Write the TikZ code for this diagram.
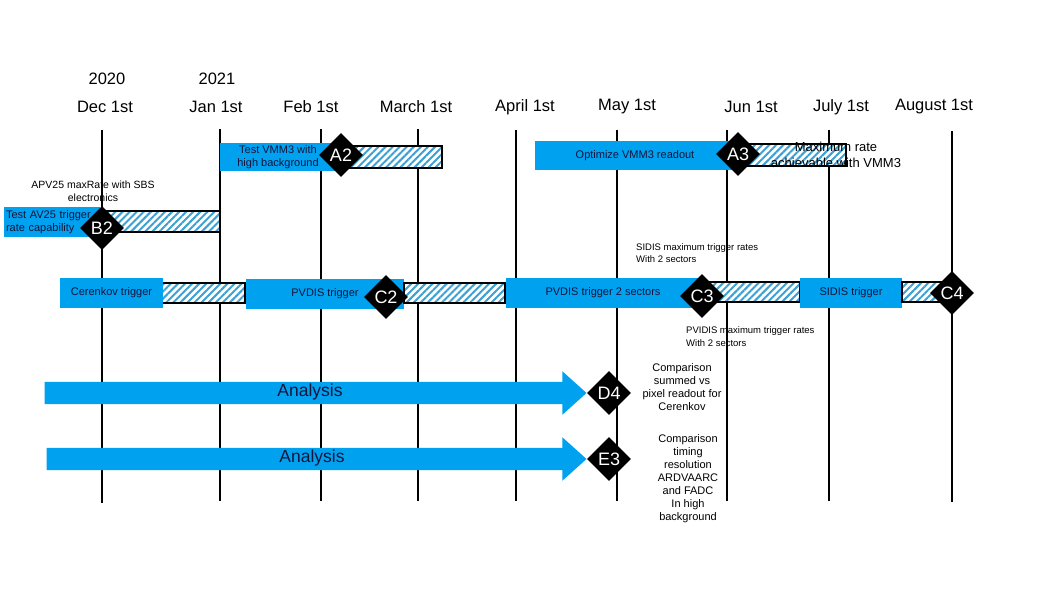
\documentclass[tikz,border=0pt]{standalone}
\usepackage{fontspec}
\setmainfont{Liberation Sans}
\usetikzlibrary{shapes.geometric,shapes.arrows,patterns.meta}
\definecolor{barblue}{RGB}{0,162,240}
\definecolor{hatchblue}{RGB}{60,160,210}
\definecolor{boxtext}{RGB}{20,20,60}
\begin{document}
\begin{tikzpicture}[x=1pt,y=-1pt,
month/.style={inner sep=0pt,font=\fontsize{16.5}{18}\selectfont},
note/.style={inner sep=0pt,align=center,font=\fontsize{11}{13}\selectfont},
month line/.style={line width=2.8pt},
blue bar/.style={fill=barblue,inner sep=0pt,text=boxtext,align=center,font=\fontsize{11}{12.5}\selectfont},
hatch bar/.style={draw=black,line width=1.6pt,inner sep=0pt,preaction={fill=white},
  pattern={Lines[angle=45,distance=5pt,line width=2pt]},pattern color=hatchblue},
milestone/.style={diamond,fill=black,text=white,inner sep=0pt,minimum width=44pt,
  minimum height=44pt,font=\fontsize{18}{18}\selectfont},
big arrow/.style={single arrow,fill=barblue,inner sep=0pt,inner ysep=11pt,
  single arrow head extend=10.5pt,single arrow tip angle=84,minimum height=542pt}]
\useasboundingbox (0,0) rectangle (1059,596);

\node[month] (Y20) at (107,79) {2020};
\node[month] (Y21) at (217,79) {2021};
\node[month] (M1) at (105,107) {Dec 1st};
\node[month] (M2) at (216,107) {Jan 1st};
\node[month] (M3) at (311,107) {Feb 1st};
\node[month] (M4) at (416,107) {March 1st};
\node[month] (M5) at (525,107) {April 1st};
\node[month] (M6) at (627,107) {May 1st};
\node[month] (M7) at (751,107) {Jun 1st};
\node[month] (M8) at (841,107) {July 1st};
\node[month] (M9) at (934,107) {August 1st};

\node[note,font=\fontsize{10.5}{13}\selectfont] (N1) at (93,191.5) {APV25 maxRate with SBS\\electronics};
\node[note,anchor=west,align=left,font=\fontsize{9.5}{12.3}\selectfont] (N3) at (636,253) {SIDIS maximum trigger rates\\With 2 sectors};
\node[note,anchor=west,align=left,font=\fontsize{9.5}{12.3}\selectfont] (N4) at (686,336.5) {PVIDIS maximum trigger rates\\With 2 sectors};
\node[note] (N5) at (682,387.5) {Comparison\\summed vs\\pixel readout for\\Cerenkov};
\node[note] (N6) at (688,478.7) {Comparison\\timing\\resolution\\ARDVAARC\\and FADC\\In high\\background};

\coordinate (L1a) at (102,130); \coordinate (L1b) at (102,503);
\coordinate (L2a) at (220,129); \coordinate (L2b) at (220,501);
\coordinate (L3a) at (321,129); \coordinate (L3b) at (321,501);
\coordinate (L4a) at (418,129); \coordinate (L4b) at (418,501);
\coordinate (L5a) at (516,130); \coordinate (L5b) at (516,501);
\coordinate (L6a) at (617,130); \coordinate (L6b) at (617,501);
\coordinate (L7a) at (727,130); \coordinate (L7b) at (727,501);
\coordinate (L8a) at (829,130); \coordinate (L8b) at (829,501);
\coordinate (L9a) at (952,131); \coordinate (L9b) at (952,502);
\draw[month line] (L1a)--(L1b);
\draw[month line] (L2a)--(L2b);
\draw[month line] (L3a)--(L3b);
\draw[month line] (L4a)--(L4b);
\draw[month line] (L5a)--(L5b);
\draw[month line] (L6a)--(L6b);
\draw[month line] (L7a)--(L7b);
\draw[month line] (L8a)--(L8b);
\draw[month line] (L9a)--(L9b);

\node[blue bar,minimum width=116pt,minimum height=28pt] (T1) at (278,157) {Test VMM3 with\\high background};
\node[hatch bar,minimum width=102pt,minimum height=22pt] (H1) at (391,157) {};
\node[milestone] (A2) at (341,155) {A2};

\node[blue bar,minimum width=200pt,minimum height=29pt] (T2) at (635,155.5) {Optimize VMM3 readout};
\node[hatch bar,minimum width=109pt,minimum height=22pt] (H2) at (791.5,155) {};
\node[milestone] (A3) at (738,154) {A3};
\node[note,font=\fontsize{13}{15.5}\selectfont] (N2) at (836,155) {Maximum rate\\achievable with VMM3};

\node[blue bar,minimum width=96pt,minimum height=30pt,text width=92pt,align=left] (T3) at (52,222) {Test AV25 trigger\\rate capability};
\node[hatch bar,minimum width=120pt,minimum height=21pt] (H3) at (160,221.5) {};
\node[milestone] (B2) at (102,228) {B2};

\node[hatch bar,minimum width=84pt,minimum height=20pt] (H4) at (203,293) {};
\node[blue bar,minimum width=103pt,minimum height=30pt] (T4) at (111.5,293) {Cerenkov trigger};
\node[blue bar,minimum width=158pt,minimum height=30pt] (T5) at (325,294) {PVDIS trigger};
\node[hatch bar,minimum width=101pt,minimum height=20pt] (H5) at (454.5,293) {};
\node[milestone] (C2) at (386,297) {C2};
\node[blue bar,minimum width=194pt,minimum height=30pt] (T6) at (603,293) {PVDIS trigger 2 sectors};
\node[hatch bar,minimum width=98pt,minimum height=20pt] (H6) at (751,292) {};
\node[milestone] (C3) at (702,296) {C3};
\node[blue bar,minimum width=102pt,minimum height=30pt] (T7) at (851,293) {SIDIS trigger};
\node[hatch bar,minimum width=43pt,minimum height=20pt] (H7) at (923.5,292) {};
\node[milestone] (C4) at (952,293) {C4};

\node[milestone] (D4) at (609,393) {D4};
\node[milestone] (E3) at (609,459) {E3};
\node[big arrow,anchor=tip] (R1) at (D4.west) {};
\node[big arrow,anchor=tip,minimum height=540pt] (R2) at (E3.west) {};
\node[text=boxtext,font=\fontsize{17.5}{18}\selectfont] (W1) at (310,392) {Analysis};
\node[text=boxtext,font=\fontsize{17.5}{18}\selectfont] (W2) at (312,458) {Analysis};
\end{tikzpicture}
\end{document}
